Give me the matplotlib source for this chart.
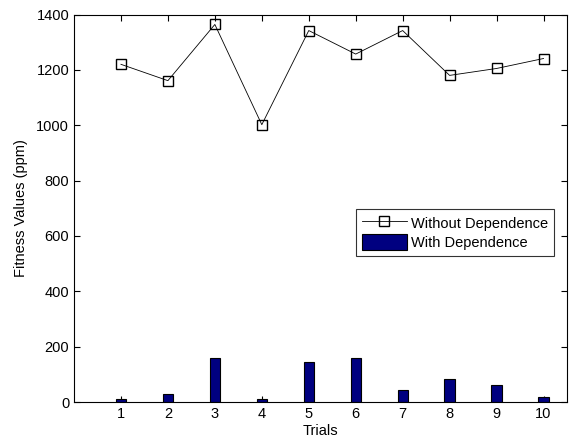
import numpy as np
import matplotlib
matplotlib.use("Agg")
import matplotlib.pyplot as plt

plt.rcParams['font.family'] = ['Liberation Sans', 'DejaVu Sans']

trials = [1, 2, 3, 4, 5, 6, 7, 8, 9, 10]
without_dep = [1220, 1161, 1364, 1002, 1342, 1257, 1342, 1180, 1205, 1241]
with_dep = [12, 28, 159, 12, 143, 159, 45, 82, 61, 17]

fig = plt.figure(figsize=(5.73, 4.43), dpi=100)
ax = fig.add_axes([74 / 573, 1 - 402 / 443, (567 - 74) / 573, (402 - 14.5) / 443])

ax.plot(trials, without_dep, color='black', linewidth=0.6, marker='s',
        markersize=6.5, markerfacecolor='none', markeredgecolor='black',
        markeredgewidth=1.0, label='Without Dependence', zorder=3)
ax.bar(trials, with_dep, width=0.22, color='#000080', edgecolor='black',
       linewidth=0.8, label='With Dependence', zorder=2)

ax.set_xlim(0, 10.5)
ax.set_ylim(0, 1400)
ax.set_xticks(trials)
ax.set_yticks(np.arange(0, 1401, 200))
ax.tick_params(direction='in', top=True, right=True, length=4, width=0.8,
               labelsize=10.5, colors='black')
for s in ax.spines.values():
    s.set_linewidth(0.8)

ax.set_xlabel('Trials', fontsize=10.5, labelpad=2)
ax.set_ylabel('Fitness Values (ppm)', fontsize=10.5, labelpad=6)

leg = ax.legend(loc='upper left', bbox_to_anchor=((356 - 74) / 493, 1 - (209 - 14.5) / 387.5),
                fontsize=10.5, frameon=True, fancybox=False, edgecolor='black',
                borderpad=0.4, handlelength=3.1, handleheight=1.35, handletextpad=0.3,
                labelspacing=0.2, borderaxespad=0)
leg.get_frame().set_linewidth(0.8)

fig.savefig('out.png', dpi=100)
